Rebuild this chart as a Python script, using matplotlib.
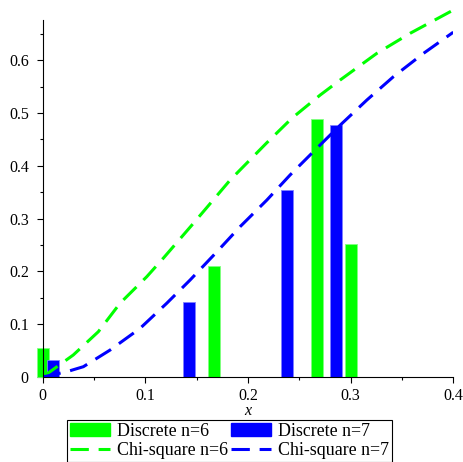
import matplotlib
matplotlib.use("Agg")
from matplotlib import pyplot as plt
from matplotlib.patches import Patch
from matplotlib.lines import Line2D

# discrete distributions (bar positions and heights)
disc6_x = [0.0, 0.1671, 0.267, 0.3003]
disc6_y = [0.054, 0.210, 0.489, 0.252]
disc7_x = [0.0098, 0.1429, 0.2383, 0.2859]
disc7_y = [0.032, 0.1415, 0.354, 0.477]

# chi-square curves
chi6_x = [0.0, 0.0298, 0.0542, 0.0753, 0.1014, 0.1175, 0.1468, 0.1826, 0.218,
          0.2427, 0.2703, 0.2898, 0.3255, 0.358, 0.400]
chi6_y = [0.0, 0.0417, 0.0858, 0.1396, 0.190, 0.225, 0.291, 0.373, 0.443,
          0.490, 0.534, 0.5625, 0.613, 0.651, 0.695]
chi7_x = [0.0, 0.0234, 0.0396, 0.0656, 0.0948, 0.1208, 0.1436, 0.1696, 0.1923,
          0.2183, 0.241, 0.2654, 0.2898, 0.3158, 0.3417, 0.371, 0.400]
chi7_y = [0.0, 0.010, 0.0195, 0.051, 0.092, 0.1396, 0.1837, 0.237, 0.2847,
          0.335, 0.3826, 0.430, 0.477, 0.5246, 0.5688, 0.613, 0.653]

xticks = [0, 0.1, 0.2, 0.3, 0.4]
yticks = [0, 0.1, 0.2, 0.3, 0.4, 0.5, 0.6]

green = "#00ff00"
blue = "#0000ff"

plt.rcParams['font.family'] = ['Liberation Serif', 'DejaVu Serif']
plt.rcParams['font.size'] = 11.5

fig = plt.figure(figsize=(4.63, 4.62), dpi=100)
ax = fig.add_axes([42.7/463, 85/462, (453.3-42.7)/463, 369.6/462])

bar_w = 0.0117
ax.bar(disc6_x, disc6_y, width=bar_w, color=green, edgecolor="#80ff80",
       linewidth=0.6, zorder=2, clip_on=False)
ax.bar(disc7_x, disc7_y, width=bar_w, color=blue, edgecolor="#8080ff",
       linewidth=0.6, zorder=2, clip_on=False)

dash = (6.0, 3.2)
ax.plot(chi6_x, chi6_y, color=green, lw=2.2, dashes=dash, zorder=3)
ax.plot(chi7_x, chi7_y, color=blue, lw=2.2, dashes=dash, zorder=3)

ax.set_xlim(0, 0.4)
ax.set_ylim(0, 0.70)
ax.set_xticks(xticks)
ax.set_xticklabels(["0", "0.1", "0.2", "0.3", "0.4"])
ax.set_yticks(yticks)
ax.set_yticklabels(["0", "0.1", "0.2", "0.3", "0.4", "0.5", "0.6"])
ax.set_xticks([0.05, 0.15, 0.25, 0.35], minor=True)
ax.set_yticks([0.05, 0.15, 0.25, 0.35, 0.45, 0.55, 0.65], minor=True)
ax.tick_params(which='major', direction='out', length=4, width=0.8, pad=4)
ax.tick_params(which='minor', direction='out', length=2.5, width=0.8)
ax.tick_params(axis='y', which='major', pad=6)

ax.spines['top'].set_visible(False)
ax.spines['right'].set_visible(False)
ax.spines['left'].set_bounds(0, 0.676)
ax.spines['left'].set_zorder(5)
ax.spines['bottom'].set_zorder(5)
ax.set_xlabel("x", style='italic', labelpad=-1)

handles = [Patch(facecolor=green, edgecolor=green),
           Patch(facecolor=blue, edgecolor=blue),
           Line2D([], [], color=green, lw=2.2, dashes=dash),
           Line2D([], [], color=blue, lw=2.2, dashes=dash)]
labels = ["Discrete n=6", "Discrete n=7", "Chi-square n=6", "Chi-square n=7"]
# order for two columns, filled row-wise
order = [0, 2, 1, 3]
leg = fig.legend([handles[i] for i in order], [labels[i] for i in order],
                 ncol=2, loc='lower left', bbox_to_anchor=(67/463, 0.5/462),
                 frameon=True, fancybox=False, edgecolor='black', framealpha=1,
                 fontsize=12.9, borderpad=0.15, handlelength=2.25,
                 handleheight=0.7, handletextpad=0.4, columnspacing=0.15,
                 labelspacing=0.1, borderaxespad=0)
leg.get_frame().set_linewidth(0.8)

fig.savefig("out.png", dpi=100)
plt.close()
